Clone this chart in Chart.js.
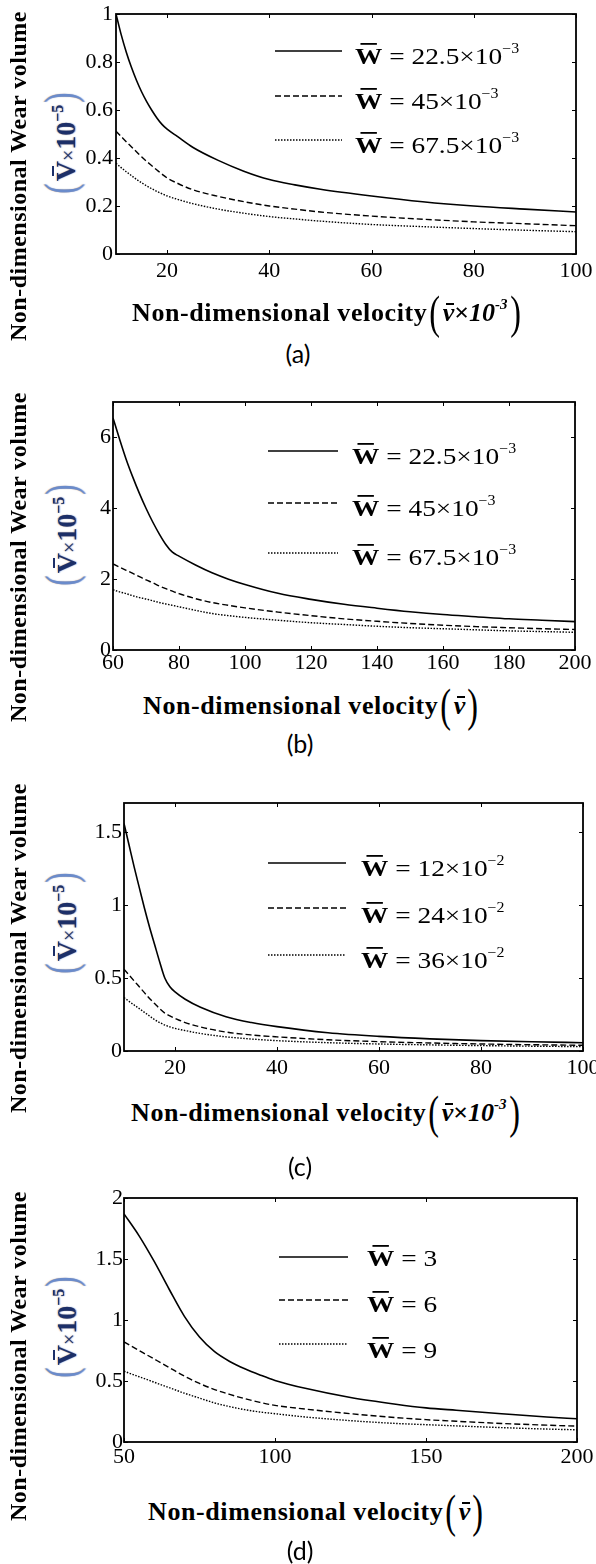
<!DOCTYPE html>
<html>
<head>
<meta charset="utf-8">
<title>Non-dimensional wear volume against non-dimensional velocity</title>
<script src="https://cdn.jsdelivr.net/npm/chart.js@4.4.1/dist/chart.umd.min.js"></script>
<style>
  html, body { margin:0; padding:0; background:#fff; }
  body { position:relative; width:596px; height:1564px; overflow:hidden; font-family:"Liberation Serif", "Times New Roman", serif; color:#000; }
  canvas { position:absolute; left:0; }
  .ytitle { position:absolute; white-space:nowrap; font-weight:bold; font-size:24px; line-height:24px; letter-spacing:0.5px;
            transform:translate(-50%,-50%) rotate(-90deg); }
  .vlabel { position:absolute; white-space:nowrap; line-height:48px; height:48px; color:#1c2f68;
            transform:translate(-50%,-50%) rotate(-90deg); filter:blur(0.35px);
            text-shadow:0 -1px 1px rgba(220,150,80,0.55), 0 1px 1px rgba(90,140,225,0.7); }
  .vlabel .p { font-size:44px; font-weight:normal; color:#6a8bcb; display:inline-block; transform:scaleX(0.7); }
  .vlabel .b { font-size:28px; font-weight:bold; position:relative; }
  .vlabel .x { font-size:20px; }
  .vlabel .s { font-size:16px; font-weight:bold; position:relative; top:-12px; }
  .bar { position:absolute; height:2px; background:currentColor; }
  .xtitle { position:absolute; white-space:nowrap; font-weight:bold; font-size:26px; line-height:26px; }
  .xtitle .t { letter-spacing:0.6px; }
  .xtitle .p { font-size:46px; font-weight:normal; line-height:0; position:relative; top:7px; display:inline-block; transform:scaleX(0.7); }
  .xtitle .v { font-style:italic; position:relative; }
  .xtitle .s { font-size:15px; font-style:italic; position:relative; top:-12px; line-height:0; }
  .cap { position:absolute; white-space:nowrap; font-family:Lato, "Open Sans", sans-serif; font-size:25px; line-height:30px;
         transform:translate(-50%,-50%); }
</style>
</head>
<body>
<canvas id="panelA"></canvas>
<canvas id="panelB"></canvas>
<canvas id="panelC"></canvas>
<canvas id="panelD"></canvas>

<!-- axis titles and captions -->
<div class="ytitle" style="left:18px; top:176px;">Non-dimensional Wear volume</div>
<div class="ytitle" style="left:18px; top:557px;">Non-dimensional Wear volume</div>
<div class="ytitle" style="left:18px; top:948px;">Non-dimensional Wear volume</div>
<div class="ytitle" style="left:18px; top:1356px;">Non-dimensional Wear volume</div>

<div class="vlabel" style="left:61px; top:143px;"><span class="p">(</span><span class="b">V<i class="bar" style="left:5px;right:5px;top:2px;"></i></span><span class="x">×</span><span class="b">10</span><span class="s">−5</span><span class="p">)</span></div>
<div class="vlabel" style="left:62px; top:535px;"><span class="p">(</span><span class="b">V<i class="bar" style="left:5px;right:5px;top:2px;"></i></span><span class="x">×</span><span class="b">10</span><span class="s">−5</span><span class="p">)</span></div>
<div class="vlabel" style="left:62px; top:923px;"><span class="p">(</span><span class="b">V<i class="bar" style="left:5px;right:5px;top:2px;"></i></span><span class="x">×</span><span class="b">10</span><span class="s">−5</span><span class="p">)</span></div>
<div class="vlabel" style="left:62px; top:1327px;"><span class="p">(</span><span class="b">V<i class="bar" style="left:5px;right:5px;top:2px;"></i></span><span class="x">×</span><span class="b">10</span><span class="s">−5</span><span class="p">)</span></div>

<div class="xtitle" style="left:132px; top:300px;"><span class="t">Non-dimensional velocity</span><span class="p">(</span><span class="v">v<i class="bar" style="left:3px;right:0;top:5px;"></i></span>×<span class="v">10</span><span class="s">-3</span><span class="p">)</span></div>
<div class="xtitle" style="left:143px; top:693px;"><span class="t">Non-dimensional velocity</span><span class="p">(</span><span class="v">v<i class="bar" style="left:3px;right:0;top:5px;"></i></span><span class="p">)</span></div>
<div class="xtitle" style="left:131px; top:1100px;"><span class="t">Non-dimensional velocity</span><span class="p">(</span><span class="v">v<i class="bar" style="left:3px;right:0;top:5px;"></i></span>×<span class="v">10</span><span class="s">-3</span><span class="p">)</span></div>
<div class="xtitle" style="left:148px; top:1499px;"><span class="t">Non-dimensional velocity</span><span class="p">(</span><span class="v">v<i class="bar" style="left:3px;right:0;top:5px;"></i></span><span class="p">)</span></div>

<div class="cap" style="left:298px; top:353px;">(a)</div>
<div class="cap" style="left:300px; top:743px;">(b)</div>
<div class="cap" style="left:300px; top:1166px;">(c)</div>
<div class="cap" style="left:300px; top:1550px;">(d)</div>

<script>
// ---- Panel (a): velocity ×10⁻³, wear volume ×10⁻⁵ ----
const velocityA = [10, 11, 12, 13, 14, 15, 16, 17, 18, 19, 20, 22, 25, 30, 35, 40, 45, 50, 60, 70, 80, 90, 100];
const wearA1 = [1.0, 0.915, 0.842, 0.779, 0.724, 0.676, 0.635, 0.599, 0.567, 0.54, 0.52, 0.49, 0.445, 0.39, 0.345, 0.31, 0.288, 0.27, 0.242, 0.218, 0.2, 0.187, 0.175];
const wearA2 = [0.512, 0.49, 0.468, 0.447, 0.426, 0.405, 0.386, 0.368, 0.35, 0.333, 0.317, 0.295, 0.268, 0.24, 0.218, 0.2, 0.187, 0.175, 0.158, 0.145, 0.134, 0.126, 0.118];
const wearA3 = [0.378, 0.36, 0.343, 0.327, 0.311, 0.297, 0.284, 0.272, 0.261, 0.251, 0.242, 0.228, 0.21, 0.187, 0.17, 0.156, 0.146, 0.137, 0.123, 0.114, 0.106, 0.099, 0.093];
const loadsA = ['22.5', '45', '67.5'];
const loadExpA = '−3';
const xTicksA = [20, 40, 60, 80, 100];
const yTicksA = [0, 0.2, 0.4, 0.6, 0.8, 1];

// ---- Panel (b): velocity, wear volume ×10⁻⁵ ----
const velocityB = [60, 62, 64, 66, 68, 70, 72, 74, 76, 78, 80, 85, 90, 95, 100, 110, 120, 130, 140, 150, 160, 170, 180, 190, 200];
const wearB1 = [6.55, 5.95, 5.38, 4.88, 4.42, 4.0, 3.62, 3.28, 2.98, 2.76, 2.65, 2.4, 2.18, 2.0, 1.85, 1.6, 1.43, 1.29, 1.18, 1.08, 1.0, 0.94, 0.88, 0.84, 0.8];
const wearB2 = [2.43, 2.34, 2.25, 2.16, 2.07, 1.98, 1.9, 1.81, 1.73, 1.66, 1.59, 1.45, 1.34, 1.26, 1.19, 1.07, 0.97, 0.88, 0.81, 0.75, 0.7, 0.66, 0.63, 0.6, 0.58];
const wearB3 = [1.7, 1.64, 1.59, 1.53, 1.48, 1.44, 1.39, 1.34, 1.3, 1.26, 1.22, 1.12, 1.03, 0.97, 0.92, 0.84, 0.77, 0.72, 0.67, 0.63, 0.6, 0.57, 0.54, 0.52, 0.5];
const loadsB = ['22.5', '45', '67.5'];
const loadExpB = '−3';
const xTicksB = [60, 80, 100, 120, 140, 160, 180, 200];
const yTicksB = [0, 2, 4, 6];

// ---- Panel (c): velocity ×10⁻³, wear volume ×10⁻⁵ ----
const velocityC = [10, 11, 12, 13, 14, 15, 16, 17, 18, 19, 20, 22, 25, 30, 35, 40, 50, 60, 70, 80, 90, 100];
const wearC1 = [1.56, 1.41, 1.26, 1.12, 0.98, 0.85, 0.73, 0.61, 0.5, 0.44, 0.405, 0.355, 0.3, 0.235, 0.195, 0.167, 0.125, 0.1, 0.083, 0.071, 0.063, 0.057];
const wearC2 = [0.56, 0.52, 0.48, 0.44, 0.4, 0.36, 0.325, 0.29, 0.26, 0.24, 0.224, 0.195, 0.165, 0.13, 0.11, 0.097, 0.077, 0.064, 0.055, 0.048, 0.043, 0.039];
const wearC3 = [0.366, 0.34, 0.315, 0.29, 0.265, 0.24, 0.215, 0.195, 0.178, 0.165, 0.155, 0.14, 0.12, 0.097, 0.082, 0.071, 0.057, 0.048, 0.042, 0.037, 0.033, 0.03];
const loadsC = ['12', '24', '36'];
const loadExpC = '−2';
const xTicksC = [20, 40, 60, 80, 100];
const yTicksC = [0, 0.5, 1, 1.5];

// ---- Panel (d): velocity, wear volume ×10⁻⁵ ----
const velocityD = [50, 55, 60, 65, 70, 75, 80, 85, 90, 95, 100, 110, 125, 140, 150, 160, 175, 190, 200];
const wearD1 = [1.87, 1.69, 1.48, 1.25, 1.03, 0.86, 0.74, 0.66, 0.6, 0.55, 0.505, 0.44, 0.365, 0.31, 0.28, 0.26, 0.232, 0.205, 0.19];
const wearD2 = [0.82, 0.75, 0.68, 0.61, 0.54, 0.48, 0.43, 0.39, 0.355, 0.325, 0.3, 0.27, 0.232, 0.2, 0.183, 0.17, 0.152, 0.138, 0.13];
const wearD3 = [0.58, 0.535, 0.49, 0.445, 0.4, 0.36, 0.32, 0.29, 0.265, 0.246, 0.232, 0.205, 0.175, 0.152, 0.142, 0.132, 0.118, 0.106, 0.1];
const loadsD = ['3', '6', '9'];
const loadExpD = '';
const xTicksD = [50, 100, 150, 200];
const yTicksD = [0, 0.5, 1, 1.5, 2];

// solid, dashed and dotted curve styles
const lineStyles = [
  { width: 1.6, dash: [] },
  { width: 1.4, dash: [6, 3] },
  { width: 1.4, dash: [1.5, 1.5] }
];
const tickFont = { family: '"Liberation Serif", "Times New Roman", serif', size: 22 };

// Box frame with inward tick marks on all four sides
const frameTicks = {
  id: 'frameTicks',
  afterDatasetsDraw(chart) {
    const { ctx, chartArea: a, scales: { x, y } } = chart;
    const t = 4;
    ctx.save();
    ctx.strokeStyle = '#000';
    ctx.lineWidth = 1;
    ctx.beginPath();
    x.ticks.forEach(tk => {
      const px = Math.round(x.getPixelForValue(tk.value)) + 0.5;
      ctx.moveTo(px, a.bottom); ctx.lineTo(px, a.bottom - t);
      ctx.moveTo(px, a.top); ctx.lineTo(px, a.top + t);
    });
    y.ticks.forEach(tk => {
      const py = Math.round(y.getPixelForValue(tk.value)) + 0.5;
      ctx.moveTo(a.left, py); ctx.lineTo(a.left + t, py);
      ctx.moveTo(a.right, py); ctx.lineTo(a.right - t, py);
    });
    ctx.stroke();
    ctx.lineWidth = 1.8;
    ctx.strokeRect(a.left, a.top, a.right - a.left, a.bottom - a.top);
    ctx.restore();
  }
};

// Legend: line sample followed by "W̄ = value×10^exp"
const wearLegend = {
  id: 'wearLegend',
  afterDraw(chart, args, opts) {
    const ctx = chart.ctx;
    const fam = '"Liberation Serif", "Times New Roman", serif';
    chart.data.datasets.forEach((ds, i) => {
      const ly = opts.lineY[i], by = opts.baseY[i];
      ctx.save();
      ctx.strokeStyle = '#000';
      ctx.lineWidth = ds.borderWidth;
      ctx.setLineDash(ds.borderDash);
      ctx.beginPath();
      ctx.moveTo(opts.x1, ly);
      ctx.lineTo(opts.x2, ly);
      ctx.stroke();
      ctx.setLineDash([]);
      ctx.translate(opts.textX, by);
      ctx.scale(opts.stretch, 1);
      ctx.fillStyle = '#000';
      ctx.textBaseline = 'alphabetic';
      ctx.textAlign = 'left';
      let x = 0;
      ctx.font = 'bold 24px ' + fam;
      ctx.fillText('W', x, 0);
      const ww = ctx.measureText('W').width;
      ctx.fillRect(x + ww * 0.2, -21, ww * 0.6, 1.8);
      x += ww;
      ctx.font = '24px ' + fam;
      const main = ' = ' + opts.values[i] + (opts.exp ? '×10' : '');
      ctx.fillText(main, x, 0);
      x += ctx.measureText(main).width;
      if (opts.exp) {
        ctx.font = '14px ' + fam;
        ctx.fillText(opts.exp, x, -11);
      }
      ctx.restore();
    });
  }
};

function buildPanel(p) {
  const canvas = document.getElementById(p.id);
  canvas.width = 596;
  canvas.height = p.height;
  canvas.style.top = p.top + 'px';
  const datasets = p.series.map((vals, i) => ({
    label: 'W = ' + p.loads[i] + (p.exp ? '×10' + p.exp : ''),
    data: p.velocity.map((v, j) => ({ x: v, y: vals[j] })),
    borderColor: '#000',
    borderWidth: lineStyles[i].width,
    borderDash: lineStyles[i].dash,
    pointRadius: 0,
    fill: false,
    cubicInterpolationMode: 'monotone'
  }));
  const leg = p.legend;
  return new Chart(canvas, {
    type: 'line',
    data: { datasets },
    options: {
      responsive: false,
      animation: false,
      devicePixelRatio: 1,
      events: [],
      layout: { padding: { top: p.area.top - p.top, right: 596 - p.area.right, left: 0, bottom: 0 } },
      plugins: {
        legend: { display: false },
        tooltip: { enabled: false },
        wearLegend: {
          x1: leg.x1, x2: leg.x2, textX: leg.textX, stretch: 1.14,
          lineY: leg.lineY.map(v => v - p.top),
          baseY: leg.baseY.map(v => v - p.top),
          values: p.loads, exp: p.exp
        }
      },
      scales: {
        x: {
          type: 'linear', min: p.xMin, max: p.xMax,
          afterBuildTicks: s => { s.ticks = p.xTicks.map(v => ({ value: v })); },
          afterFit: s => { s.height = p.top + p.height - p.area.bottom; s.paddingLeft = 0; s.paddingRight = 0; },
          grid: { display: false, drawTicks: false },
          border: { display: false },
          ticks: { color: '#000', font: tickFont, padding: p.xPad, maxRotation: 0, autoSkip: false, callback: v => String(v) }
        },
        y: {
          type: 'linear', min: 0, max: p.yMax,
          afterBuildTicks: s => { s.ticks = p.yTicks.map(v => ({ value: v })); },
          afterFit: s => { s.width = p.area.left; s.paddingTop = 0; s.paddingBottom = 0; },
          grid: { display: false, drawTicks: false },
          border: { display: false },
          ticks: { color: '#000', font: tickFont, padding: p.yPad, autoSkip: false, callback: v => String(v) }
        }
      }
    },
    plugins: [frameTicks, wearLegend]
  });
}

buildPanel({
  id: 'panelA', top: 0, height: 300,
  area: { left: 116, top: 14, right: 576, bottom: 254 },
  velocity: velocityA, series: [wearA1, wearA2, wearA3], loads: loadsA, exp: loadExpA,
  xMin: 10, xMax: 100, yMax: 1, xTicks: xTicksA, yTicks: yTicksA, xPad: 4, yPad: 3,
  legend: { x1: 275, x2: 342, textX: 355, lineY: [51, 96, 140], baseY: [64, 109, 153] }
});
buildPanel({
  id: 'panelB', top: 380, height: 300,
  area: { left: 113, top: 402, right: 575, bottom: 650 },
  velocity: velocityB, series: [wearB1, wearB2, wearB3], loads: loadsB, exp: loadExpB,
  xMin: 60, xMax: 200, yMax: 7, xTicks: xTicksB, yTicks: yTicksB, xPad: 0, yPad: 2,
  legend: { x1: 268, x2: 338, textX: 352, lineY: [451, 503, 553], baseY: [464, 516, 565] }
});
buildPanel({
  id: 'panelC', top: 780, height: 300,
  area: { left: 124, top: 803, right: 583, bottom: 1051 },
  velocity: velocityC, series: [wearC1, wearC2, wearC3], loads: loadsC, exp: loadExpC,
  xMin: 10, xMax: 100, yMax: 1.7, xTicks: xTicksC, yTicks: yTicksC, xPad: 4, yPad: 2,
  legend: { x1: 268, x2: 346, textX: 361, lineY: [863, 908, 955], baseY: [876, 923, 968] }
});
buildPanel({
  id: 'panelD', top: 1175, height: 300,
  area: { left: 124, top: 1198, right: 577, bottom: 1442 },
  velocity: velocityD, series: [wearD1, wearD2, wearD3], loads: loadsD, exp: loadExpD,
  xMin: 50, xMax: 200, yMax: 2, xTicks: xTicksD, yTicks: yTicksD, xPad: 2, yPad: 1,
  legend: { x1: 279, x2: 348, textX: 367, lineY: [1257, 1300, 1344], baseY: [1266, 1312, 1358] }
});
</script>
</body>
</html>
